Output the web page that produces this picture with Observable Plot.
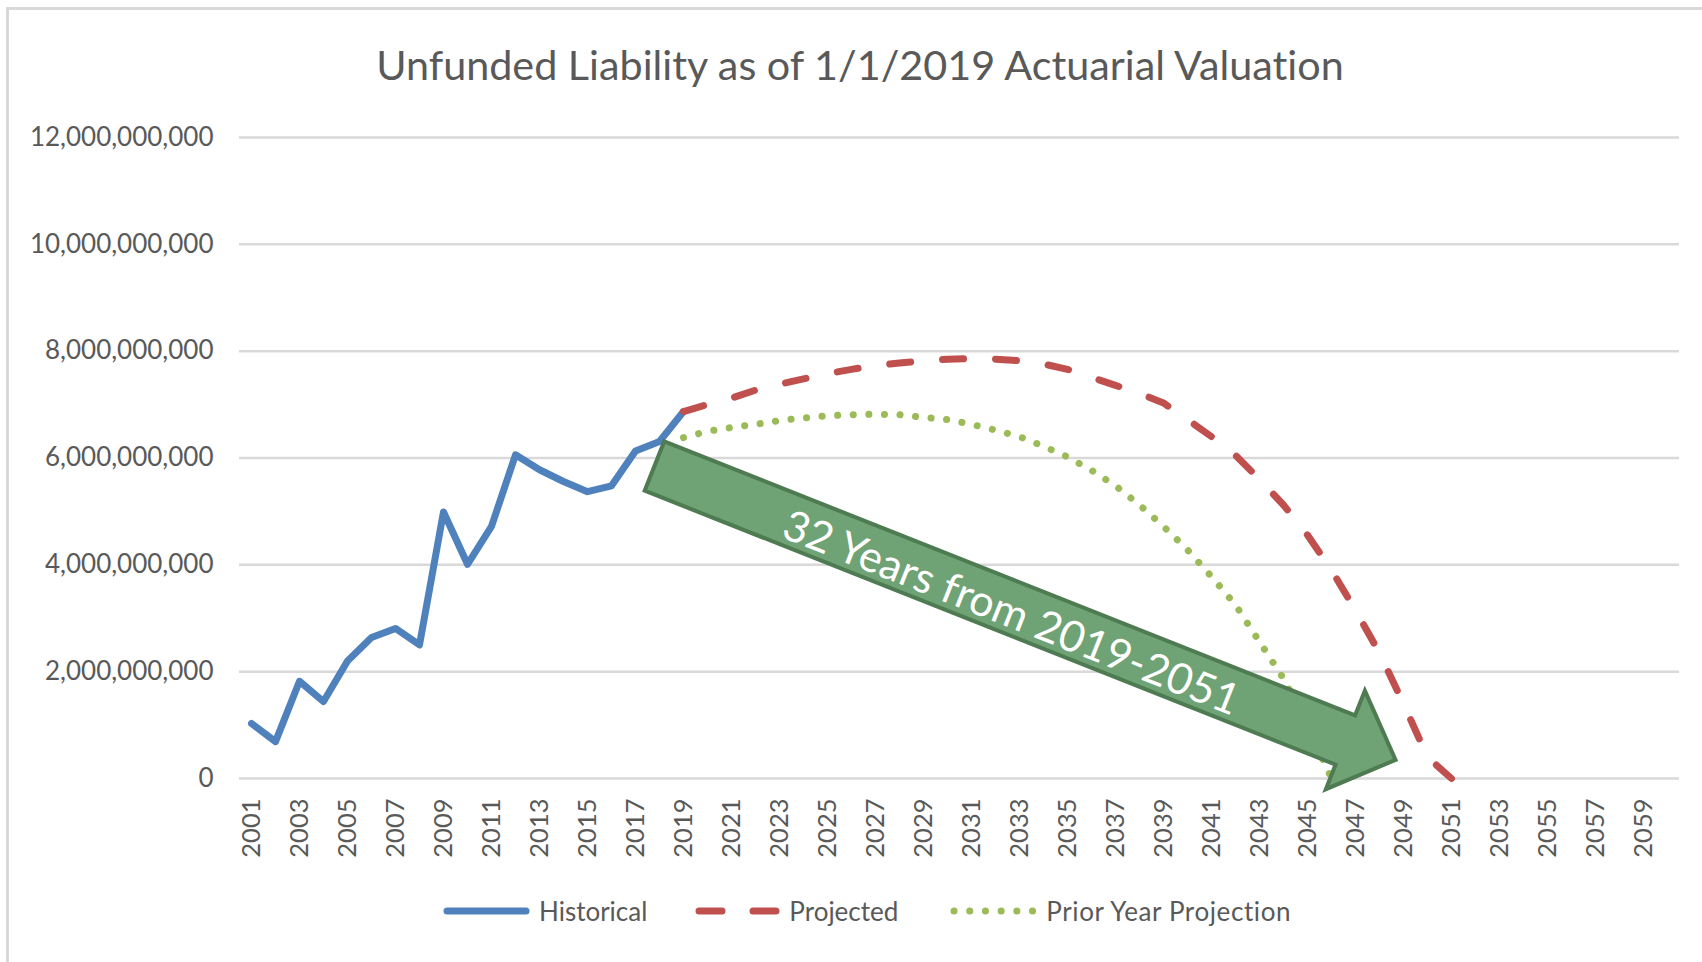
<!DOCTYPE html>
<html>
<head>
<meta charset="utf-8">
<script src="https://cdn.jsdelivr.net/npm/d3@7"></script>
<script src="https://cdn.jsdelivr.net/npm/@observablehq/plot@0.6"></script>
<style>
  html, body { margin: 0; padding: 0; background: #ffffff; }
  #wrap { position: relative; width: 1702px; height: 962px; overflow: hidden; font-family: Lato, "Open Sans", sans-serif; color: #595959; font-variant-ligatures: none; }
  #frame { position: absolute; left: 6px; top: 7px; width: 1800px; height: 1000px; border-left: 3px solid #d9d9d9; border-top: 3px solid #d9d9d9; }
  #chart { position: absolute; left: 0; top: 0; }
  #title { position: absolute; left: 0; top: 40px; width: 1720px; text-align: center; font-size: 41.3px; line-height: 48px; white-space: nowrap; font-variant-ligatures: none; }
  #legend { position: absolute; left: 443px; top: 898px; display: flex; align-items: center; font-size: 26px; line-height: 26px; white-space: nowrap; }
  #legend .item { display: flex; align-items: center; }
  #legend svg { display: block; }
</style>
</head>
<body>
<div id="wrap">
  <div id="frame"></div>
  <div id="chart"></div>
  <div id="title">Unfunded Liability as of 1/1/2019 Actuarial Valuation</div>
  <div id="legend"></div>
</div>
<script>
// ---- Data (values in billions of dollars) ----
const historicalYears = d3.range(2001, 2020);
const historicalValues = [1.03, 0.69, 1.82, 1.44, 2.20, 2.64, 2.81, 2.50, 4.99, 4.01, 4.72, 6.06, 5.78, 5.56, 5.37, 5.48, 6.13, 6.31, 6.87];

const projectedYears = d3.range(2019, 2052);
const projectedValues = [6.87, 7.00, 7.12, 7.27, 7.38, 7.48, 7.58, 7.66, 7.73, 7.78, 7.82, 7.85, 7.86, 7.85, 7.82, 7.76, 7.66, 7.51, 7.36, 7.21, 7.03, 6.72, 6.40, 6.05, 5.60, 5.12, 4.56, 3.90, 3.15, 2.35, 1.40, 0.40, 0.00];

const priorYears = d3.range(2019, 2047);
const priorValues = [6.38, 6.50, 6.57, 6.63, 6.70, 6.75, 6.79, 6.81, 6.82, 6.81, 6.76, 6.72, 6.63, 6.52, 6.40, 6.22, 6.02, 5.77, 5.48, 5.12, 4.72, 4.28, 3.78, 3.25, 2.56, 1.87, 1.00, 0.00];

const seriesNames = ["Historical", "Projected", "Prior Year Projection"];
const xTickYears = d3.range(2001, 2060, 2);
const yTickValues = [0, 2e9, 4e9, 6e9, 8e9, 10e9, 12e9];
const arrowLabel = "32 Years from 2019-2051";

// ---- Annotation (data coordinates) ----
const arrowTail = {year: 2017.81, value: 5.84e9};
const arrowTip = {year: 2048.69, value: 0.34e9};
const arrowText = {year: 2032.65, value: 3.09e9};

// ---- Build tables ----
const toRows = (years, values) => years.map((y, i) => ({year: y, value: values[i] * 1e9}));
const historical = toRows(historicalYears, historicalValues);
const projected = toRows(projectedYears, projectedValues);
const prior = toRows(priorYears, priorValues);

const colors = {blue: "#4f81bd", red: "#c0504d", green: "#9bbb59", text: "#595959", grid: "#d9d9d9", arrowFill: "#6fa274", arrowStroke: "#4e7b52"};

function blockArrow(index, scales) {
  const sx = scales.x, sy = scales.y;
  const x0 = sx(arrowTail.year), y0 = sy(arrowTail.value);
  const x1 = sx(arrowTip.year), y1 = sy(arrowTip.value);
  const dx = x1 - x0, dy = y1 - y0, L = Math.hypot(dx, dy);
  const ux = dx / L, uy = dy / L, nx = -uy, ny = ux;
  const hw = 26.5, hh = 53, hl = 54;
  const bx = x1 - ux * hl, by = y1 - uy * hl;
  const pts = [
    [x0 + nx * hw, y0 + ny * hw],
    [bx + nx * hw, by + ny * hw],
    [bx + nx * hh, by + ny * hh],
    [x1, y1],
    [bx - nx * hh, by - ny * hh],
    [bx - nx * hw, by - ny * hw],
    [x0 - nx * hw, y0 - ny * hw]
  ];
  const g = d3.create("svg:g");
  g.append("polygon")
    .attr("points", pts.map(p => p.join(",")).join(" "))
    .attr("fill", colors.arrowFill)
    .attr("stroke", colors.arrowStroke)
    .attr("stroke-width", 4)
    .attr("stroke-linejoin", "miter");
  return g.node();
}

const plot = Plot.plot({
  width: 1702,
  height: 962,
  marginLeft: 239,
  marginRight: 23,
  marginTop: 137,
  marginBottom: 184,
  style: {fontFamily: "Lato, 'Open Sans', sans-serif", fontSize: "26px", color: colors.text, background: "transparent", overflow: "visible"},
  x: {type: "linear", domain: [2000.5, 2060.5]},
  y: {domain: [0, 12e9]},
  marks: [
    Plot.gridY(yTickValues, {stroke: colors.grid, strokeOpacity: 1, strokeWidth: 2.5}),
    Plot.axisY({ticks: yTickValues, tickFormat: d3.format(","), tickSize: 0, tickPadding: 26, label: null, fontSize: 26}),
    Plot.axisX({ticks: xTickYears, tickFormat: d => String(d), tickRotate: -90, tickSize: 0, tickPadding: 20, label: null, fontSize: 25.5}),
    Plot.line(historical, {x: "year", y: "value", stroke: colors.blue, strokeWidth: 7, strokeLinejoin: "round", strokeLinecap: "round"}),
    Plot.line(projected, {x: "year", y: "value", stroke: colors.red, strokeWidth: 7, strokeLinejoin: "round", strokeLinecap: "round", strokeDasharray: "21,32"}),
    Plot.line(prior, {x: "year", y: "value", stroke: colors.green, strokeWidth: 7, strokeLinejoin: "round", strokeLinecap: "round", strokeDasharray: "0.1,15.5"}),
    blockArrow,
    Plot.text([arrowText], {x: "year", y: "value", text: () => arrowLabel, rotate: 21.6, fill: "#ffffff", fontSize: 43, textAnchor: "middle", lineAnchor: "middle"})
  ]
});
document.getElementById("chart").appendChild(plot);

// ---- Legend ----
const legend = d3.select("#legend");
const swatches = [
  {name: seriesNames[0], w: 87, gapAfter: 9, spacing: 0, draw: s => s.append("line").attr("x1", 4).attr("x2", 83).attr("y1", 6).attr("y2", 6).attr("stroke", colors.blue).attr("stroke-width", 7).attr("stroke-linecap", "round")},
  {name: seriesNames[1], w: 87, gapAfter: 7, spacing: 0, draw: s => s.append("line").attr("x1", 4).attr("x2", 83).attr("y1", 6).attr("y2", 6).attr("stroke", colors.red).attr("stroke-width", 7).attr("stroke-linecap", "round").attr("stroke-dasharray", "23,31")},
  {name: seriesNames[2], w: 90, gapAfter: 6, spacing: 0.6, draw: s => s.append("line").attr("x1", 4).attr("x2", 82.6).attr("y1", 6).attr("y2", 6).attr("stroke", colors.green).attr("stroke-width", 7).attr("stroke-linecap", "round").attr("stroke-dasharray", "0.1,15.6")}
];
const gapsBetween = [48, 52, 0];
swatches.forEach((sw, i) => {
  const item = legend.append("div").attr("class", "item").style("margin-right", gapsBetween[i] + "px");
  const s = item.append("svg").attr("width", sw.w).attr("height", 12).style("margin-right", sw.gapAfter + "px");
  sw.draw(s);
  item.append("span").style("letter-spacing", sw.spacing + "px").text(sw.name);
});
</script>
</body>
</html>
